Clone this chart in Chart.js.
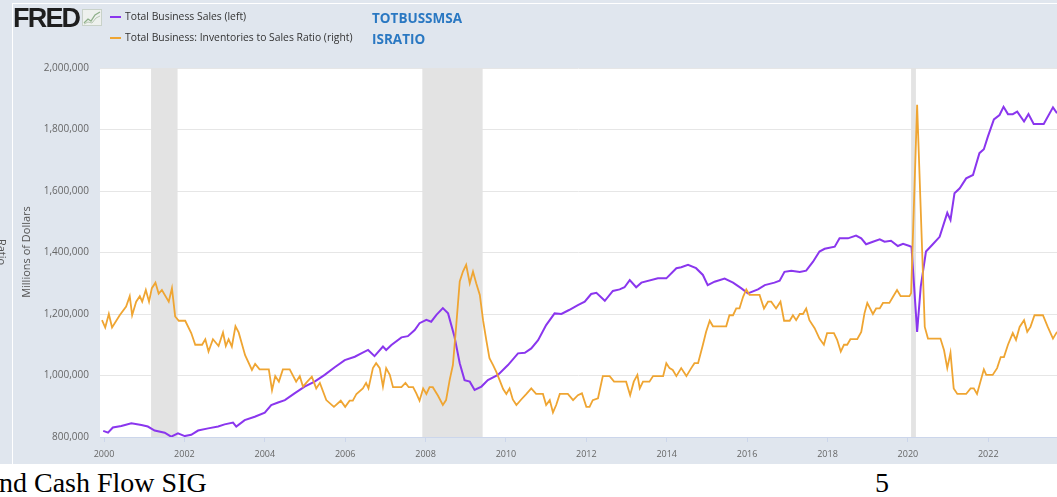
<!DOCTYPE html>
<html>
<head>
<meta charset="utf-8">
<script src="https://cdn.jsdelivr.net/npm/chart.js@4.4.1/dist/chart.umd.min.js"></script>
<style>
  html, body { margin: 0; padding: 0; background: #fff; width: 1057px; height: 497px; overflow: hidden; }
  #panel { position: absolute; left: 0; top: 0; width: 1057px; height: 464px; background: #e0e6ee; }
  #frame { position: absolute; left: 12px; top: 3px; right: 0; bottom: 0; border-left: 1px solid #fff; border-top: 1px solid #fff; }
  #chart { position: absolute; left: 0; top: 0; }
  .txt { position: absolute; white-space: nowrap; }
  #fred { left: 13px; top: 3px; font: bold 27px "Liberation Sans", Arial, sans-serif; letter-spacing: -1.8px; color: #1e1e1e; }
  .mark { position: absolute; width: 11px; height: 2px; }
  .leg { left: 125px; font: 11.5px "Open Sans", sans-serif; color: #333; transform: scaleX(0.9); transform-origin: left center; }
  .sid { left: 372px; font: bold 13.5px "Open Sans", sans-serif; color: #2a78c2; }
  #ytitle { left: 25px; top: 252px; font: 11px "Open Sans", sans-serif; color: #555; transform: translate(-50%, -50%) rotate(-90deg); }
  #ratio { left: 2px; top: 252px; font: 11px "Open Sans", sans-serif; color: #555; transform: translate(-50%, -50%) rotate(90deg); }
  .slide { font: 28px "Liberation Serif", "Times New Roman", serif; color: #000; top: 467px; }
</style>
</head>
<body>
<div id="panel">
  <div id="frame"></div>
  <canvas id="chart" width="1057" height="463"></canvas>
  <div class="txt" id="fred">FRED</div>
  <svg style="position:absolute;left:82px;top:9px" width="20" height="17" viewBox="0 0 20 17">
    <rect x="0.5" y="0.5" width="19" height="16" fill="#eef1ee" stroke="#c9d2c9"/>
    <polyline points="2,14 6,10 9,12 13,6 18,3" fill="none" stroke="#8fb08a" stroke-width="1.3"/>
    <polyline points="2,15 6,13 10,14 14,9 18,7" fill="none" stroke="#b8c8b4" stroke-width="1"/>
  </svg>
  <div class="mark" style="left:110px;top:16px;background:#8a36ee"></div>
  <div class="txt leg" style="top:8px">Total Business Sales (left)</div>
  <div class="mark" style="left:110px;top:37px;background:#efa532"></div>
  <div class="txt leg" style="top:29px">Total Business: Inventories to Sales Ratio (right)</div>
  <div class="txt sid" style="top:9px">TOTBUSSMSA</div>
  <div class="txt sid" style="top:30px">ISRATIO</div>
  <div class="txt" id="ytitle">Millions of Dollars</div>
  <div class="txt" id="ratio">Ratio</div>
</div>
<div class="txt slide" style="left:-1px">nd Cash Flow SIG</div>
<div class="txt slide" style="left:875px">5</div>

<script>
// Total Business Sales, millions of dollars (left axis)
const salesDates = [1999.98, 2000.10, 2000.22, 2000.43, 2000.68, 2000.93, 2001.09, 2001.26, 2001.51, 2001.67, 2001.84,
  2002.01, 2002.17, 2002.34, 2002.59, 2002.84, 2003.00, 2003.21, 2003.29, 2003.50, 2003.75, 2004.00, 2004.16, 2004.33,
  2004.50, 2004.74, 2004.99, 2005.24, 2005.49, 2005.74, 2005.99, 2006.24, 2006.40, 2006.57, 2006.73, 2006.94, 2007.02,
  2007.15, 2007.40, 2007.56, 2007.73, 2007.85, 2008.02, 2008.14, 2008.27, 2008.43, 2008.56, 2008.72, 2008.85, 2008.97,
  2009.10, 2009.22, 2009.39, 2009.55, 2009.80, 2010.05, 2010.30, 2010.47, 2010.63, 2010.80, 2011.00, 2011.21, 2011.38,
  2011.57, 2011.79, 2011.96, 2012.12, 2012.25, 2012.46, 2012.66, 2012.83, 2012.95, 2013.08, 2013.24, 2013.37, 2013.78,
  2013.99, 2014.24, 2014.36, 2014.53, 2014.73, 2014.90, 2015.02, 2015.19, 2015.44, 2015.65, 2015.85, 2016.02, 2016.27,
  2016.44, 2016.68, 2016.81, 2016.93, 2017.10, 2017.31, 2017.47, 2017.64, 2017.80, 2017.93, 2018.18, 2018.30, 2018.51,
  2018.71, 2018.84, 2018.96, 2019.13, 2019.30, 2019.42, 2019.58, 2019.75, 2019.88, 2020.04, 2020.09, 2020.23, 2020.32,
  2020.45, 2020.62, 2020.79, 2020.98, 2021.06, 2021.16, 2021.29, 2021.45, 2021.62, 2021.78, 2021.89, 2021.99, 2022.14,
  2022.28, 2022.38, 2022.49, 2022.61, 2022.72, 2022.89, 2023.00, 2023.13, 2023.38, 2023.61, 2023.71];
const salesValues = [820000, 814000, 831000, 836000, 845000, 839000, 834000, 821000, 814000, 801000, 812000,
  803000, 807000, 821000, 828000, 834000, 841000, 847000, 834000, 855000, 866000, 879000, 904000, 912000,
  920000, 942000, 964000, 980000, 1002000, 1027000, 1050000, 1061000, 1072000, 1083000, 1063000, 1094000, 1083000,
  1099000, 1124000, 1128000, 1148000, 1170000, 1181000, 1175000, 1197000, 1219000, 1202000, 1126000, 1040000, 985000,
  980000, 953000, 964000, 985000, 1002000, 1034000, 1072000, 1074000, 1088000, 1115000, 1164000, 1202000, 1200000,
  1213000, 1229000, 1240000, 1265000, 1269000, 1243000, 1275000, 1280000, 1287000, 1310000, 1287000, 1302000, 1316000,
  1316000, 1349000, 1352000, 1360000, 1349000, 1327000, 1294000, 1305000, 1315000, 1302000, 1284000, 1267000, 1280000,
  1294000, 1302000, 1308000, 1337000, 1341000, 1337000, 1341000, 1370000, 1403000, 1412000, 1419000, 1446000, 1446000,
  1455000, 1446000, 1427000, 1435000, 1443000, 1435000, 1438000, 1421000, 1428000, 1421000, 1418000, 1142000, 1289000,
  1403000, 1427000, 1451000, 1529000, 1506000, 1593000, 1609000, 1641000, 1652000, 1723000, 1736000, 1777000, 1833000,
  1847000, 1874000, 1850000, 1850000, 1858000, 1826000, 1850000, 1818000, 1818000, 1872000, 1853000];

// Total Business: Inventories to Sales Ratio (right axis)
const ratioDates = [1999.95, 2000.03, 2000.12, 2000.20, 2000.39, 2000.55, 2000.64, 2000.70, 2000.80, 2000.89, 2000.95,
  2001.04, 2001.12, 2001.19, 2001.28, 2001.36, 2001.44, 2001.61, 2001.69, 2001.77, 2001.86, 2002.02, 2002.17, 2002.27,
  2002.44, 2002.52, 2002.60, 2002.71, 2002.85, 2002.96, 2003.03, 2003.10, 2003.18, 2003.27, 2003.35, 2003.51, 2003.68,
  2003.76, 2003.87, 2004.10, 2004.18, 2004.26, 2004.35, 2004.45, 2004.62, 2004.78, 2004.87, 2004.95, 2005.03, 2005.17,
  2005.28, 2005.37, 2005.53, 2005.72, 2005.89, 2006.00, 2006.11, 2006.19, 2006.28, 2006.44, 2006.52, 2006.58, 2006.69,
  2006.77, 2006.86, 2006.94, 2007.02, 2007.11, 2007.19, 2007.40, 2007.50, 2007.58, 2007.69, 2007.77, 2007.85, 2007.94,
  2008.02, 2008.10, 2008.18, 2008.31, 2008.43, 2008.51, 2008.60, 2008.68, 2008.76, 2008.85, 2008.93, 2009.01, 2009.10,
  2009.18, 2009.26, 2009.35, 2009.43, 2009.51, 2009.59, 2009.68, 2009.76, 2009.84, 2009.93, 2010.01, 2010.09, 2010.17,
  2010.26, 2010.38, 2010.51, 2010.63, 2010.75, 2010.92, 2011.00, 2011.09, 2011.17, 2011.25, 2011.34, 2011.54, 2011.67,
  2011.79, 2011.89, 2012.00, 2012.08, 2012.16, 2012.29, 2012.41, 2012.58, 2012.69, 2012.99, 2013.09, 2013.18, 2013.27,
  2013.33, 2013.41, 2013.57, 2013.66, 2013.91, 2013.99, 2014.07, 2014.15, 2014.24, 2014.36, 2014.49, 2014.61, 2014.69,
  2014.78, 2014.90, 2014.98, 2015.07, 2015.15, 2015.48, 2015.56, 2015.65, 2015.73, 2015.81, 2015.90, 2015.98, 2016.06,
  2016.31, 2016.42, 2016.52, 2016.60, 2016.72, 2016.83, 2016.92, 2017.06, 2017.14, 2017.22, 2017.31, 2017.39, 2017.47,
  2017.55, 2017.68, 2017.80, 2017.91, 2017.99, 2018.16, 2018.24, 2018.33, 2018.41, 2018.49, 2018.57, 2018.74, 2018.84,
  2018.92, 2018.99, 2019.13, 2019.21, 2019.30, 2019.38, 2019.54, 2019.63, 2019.73, 2019.82, 2020.04, 2020.08, 2020.23,
  2020.42, 2020.50, 2020.81, 2020.90, 2020.98, 2021.06, 2021.14, 2021.23, 2021.45, 2021.56, 2021.64, 2021.72, 2021.89,
  2021.95, 2022.11, 2022.22, 2022.31, 2022.39, 2022.49, 2022.61, 2022.69, 2022.78, 2022.89, 2022.97, 2023.05, 2023.15,
  2023.36, 2023.48, 2023.61, 2023.71];
const ratioValues = [1.390, 1.378, 1.400, 1.378, 1.398, 1.412, 1.429, 1.398, 1.420, 1.429, 1.420,
  1.439, 1.420, 1.442, 1.451, 1.433, 1.439, 1.420, 1.442, 1.396, 1.389, 1.389, 1.369, 1.350,
  1.350, 1.359, 1.339, 1.359, 1.348, 1.370, 1.348, 1.359, 1.347, 1.380, 1.370, 1.333, 1.309,
  1.319, 1.310, 1.310, 1.276, 1.299, 1.290, 1.310, 1.310, 1.290, 1.299, 1.282, 1.288, 1.298,
  1.279, 1.288, 1.260, 1.249, 1.259, 1.249, 1.259, 1.259, 1.270, 1.279, 1.288, 1.279, 1.312,
  1.320, 1.312, 1.282, 1.312, 1.301, 1.281, 1.281, 1.288, 1.281, 1.281, 1.271, 1.259, 1.279,
  1.270, 1.281, 1.281, 1.267, 1.252, 1.260, 1.293, 1.317, 1.379, 1.453, 1.469, 1.480, 1.450,
  1.469, 1.450, 1.431, 1.390, 1.358, 1.328, 1.317, 1.306, 1.293, 1.278, 1.270, 1.279, 1.261,
  1.252, 1.261, 1.270, 1.279, 1.270, 1.270, 1.252, 1.260, 1.240, 1.252, 1.270, 1.270, 1.260,
  1.268, 1.271, 1.249, 1.249, 1.260, 1.263, 1.299, 1.299, 1.290, 1.290, 1.268, 1.290, 1.301,
  1.279, 1.290, 1.290, 1.299, 1.299, 1.320, 1.312, 1.309, 1.299, 1.312, 1.299, 1.312, 1.320,
  1.320, 1.350, 1.371, 1.389, 1.380, 1.380, 1.398, 1.398, 1.409, 1.409, 1.428, 1.440, 1.431,
  1.431, 1.409, 1.420, 1.420, 1.409, 1.420, 1.389, 1.389, 1.398, 1.390, 1.400, 1.400, 1.409,
  1.390, 1.377, 1.360, 1.350, 1.369, 1.369, 1.358, 1.339, 1.350, 1.350, 1.359, 1.359, 1.371,
  1.401, 1.418, 1.400, 1.409, 1.409, 1.418, 1.418, 1.428, 1.439, 1.429, 1.429, 1.434, 1.740,
  1.379, 1.360, 1.360, 1.341, 1.312, 1.337, 1.279, 1.270, 1.270, 1.279, 1.279, 1.270, 1.310,
  1.301, 1.301, 1.312, 1.330, 1.330, 1.350, 1.369, 1.358, 1.379, 1.390, 1.371, 1.379, 1.398,
  1.398, 1.379, 1.360, 1.371];

// NBER recessions (shaded)
const recessionStarts = [2001.17, 2007.92, 2020.08];
const recessionEnds = [2001.83, 2009.42, 2020.20];

const xTickYears = [2000, 2002, 2004, 2006, 2008, 2010, 2012, 2014, 2016, 2018, 2020, 2022];

const plotBackground = {
  id: "plotBackground",
  beforeDraw(chart) {
    const { ctx, chartArea: a } = chart;
    ctx.save();
    ctx.fillStyle = "#fff";
    ctx.fillRect(a.left, a.top, a.right - a.left, a.bottom - a.top);
    ctx.restore();
  },
};

const recessionBands = {
  id: "recessionBands",
  beforeDatasetsDraw(chart) {
    const { ctx, chartArea: a, scales } = chart;
    ctx.save();
    ctx.fillStyle = "#e3e3e3";
    recessionStarts.forEach((s, i) => {
      const x0 = scales.x.getPixelForValue(s);
      const x1 = scales.x.getPixelForValue(recessionEnds[i]);
      ctx.fillRect(x0, a.top, x1 - x0, a.bottom - a.top);
    });
    ctx.restore();
  },
};

const toPoints = (dates, values) => dates.map((d, i) => ({ x: d, y: values[i] }));

new Chart(document.getElementById("chart"), {
  type: "line",
  data: {
    datasets: [
      {
        label: "Total Business: Inventories to Sales Ratio (right)",
        data: toPoints(ratioDates, ratioValues),
        yAxisID: "y1",
        borderColor: "#efa532",
        borderWidth: 1.8,
        pointRadius: 0,
        tension: 0,
        order: 0,
      },
      {
        label: "Total Business Sales (left)",
        data: toPoints(salesDates, salesValues),
        yAxisID: "y",
        borderColor: "#8a36ee",
        borderWidth: 2,
        pointRadius: 0,
        tension: 0,
        order: 1,
      },
    ],
  },
  options: {
    responsive: false,
    animation: false,
    events: [],
    layout: { padding: { top: 68, left: 0, right: 0, bottom: 0 } },
    plugins: { legend: { display: false }, tooltip: { enabled: false } },
    scales: {
      x: {
        type: "linear",
        min: 1999.9,
        max: 2023.71,
        afterBuildTicks: (s) => { s.ticks = xTickYears.map((v) => ({ value: v })); },
        afterFit: (s) => { s.height = 26; },
        ticks: {
          callback: (v) => String(v),
          autoSkip: false,
          maxRotation: 0,
          padding: 7,
          color: "#666",
          font: { family: "'Open Sans', sans-serif", size: 9 },
        },
        grid: { drawOnChartArea: false, drawTicks: true, tickLength: 5, color: "#ccd6eb" },
        border: { color: "#ccd6eb" },
      },
      y: {
        position: "left",
        min: 800000,
        max: 2000000,
        afterFit: (s) => { s.width = 100; },
        ticks: {
          stepSize: 200000,
          callback: (v) => v.toLocaleString("en-US"),
          padding: 11,
          color: "#666",
          font: { family: "'Open Sans', sans-serif", size: 10 },
        },
        grid: { color: "#e6e6e6", drawTicks: false },
        border: { display: false },
      },
      y1: { display: false, position: "right", min: 1.2, max: 1.8 },
    },
  },
  plugins: [plotBackground, recessionBands],
});
</script>
</body>
</html>
